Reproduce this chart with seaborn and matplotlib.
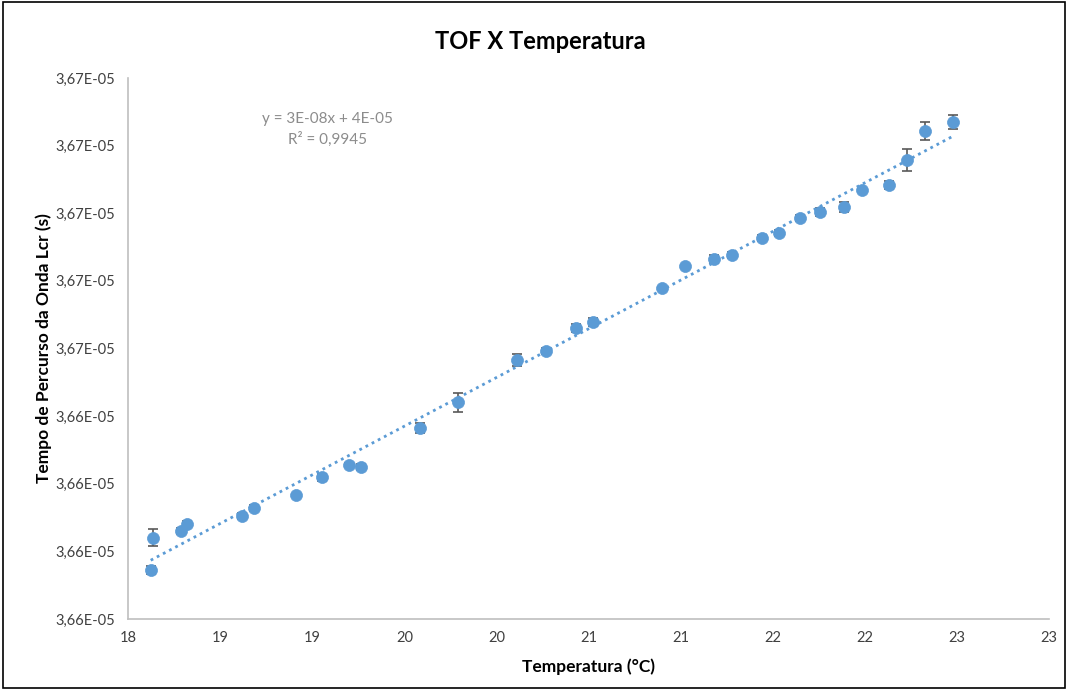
import math
import numpy as np
import pandas as pd
import seaborn as sns
import matplotlib
matplotlib.use("Agg")
import matplotlib.pyplot as plt
from matplotlib.ticker import FuncFormatter, MultipleLocator
from matplotlib.patches import Rectangle

# Temperature (°C) and time of flight of the Lcr wave (s) with its deviation
temperatura = [18.123, 18.138, 18.286, 18.319, 18.619, 18.686, 18.914, 19.055,
               19.197, 19.267, 19.584, 19.794, 20.114, 20.268, 20.434, 20.524,
               20.901, 21.024, 21.180, 21.277, 21.444, 21.533, 21.649, 21.757,
               21.889, 21.987, 22.130, 22.227, 22.325, 22.481]
tof = [3.659450e-05, 3.660405e-05, 3.660612e-05, 3.660802e-05, 3.661047e-05,
       3.661284e-05, 3.661678e-05, 3.662192e-05, 3.662565e-05, 3.662506e-05,
       3.663642e-05, 3.664405e-05, 3.665663e-05, 3.665929e-05, 3.666618e-05,
       3.666796e-05, 3.667802e-05, 3.668453e-05, 3.668642e-05, 3.668778e-05,
       3.669272e-05, 3.669420e-05, 3.669864e-05, 3.670033e-05, 3.670180e-05,
       3.670683e-05, 3.670840e-05, 3.671571e-05, 3.672438e-05, 3.672704e-05]
desvio = [1.3e-09, 2.5e-09, 0.9e-09, 0.9e-09, 0.9e-09, 0.9e-09, 0.3e-09, 1.0e-09,
          0.6e-09, 0.9e-09, 1.5e-09, 2.9e-09, 1.8e-09, 0.9e-09, 1.2e-09, 1.2e-09,
          0.3e-09, 0.3e-09, 1.2e-09, 0.9e-09, 0.9e-09, 0.9e-09, 0.9e-09, 1.2e-09,
          1.5e-09, 0.3e-09, 1.2e-09, 3.2e-09, 2.7e-09, 2.1e-09]

titulo = "TOF X Temperatura"
rotulo_x = "Temperatura (°C)"
rotulo_y = "Tempo de Percurso da Onda Lcr (s)"
equacao = "y = 3E-08x + 4E-05\nR² = 0,9945"

df = pd.DataFrame({"temperatura": temperatura, "tof": tof, "desvio": desvio})

sns.set_theme(style="white")
plt.rcParams["font.family"] = ["Lato", "DejaVu Sans"]

azul = "#5B9BD5"
fig = plt.figure(figsize=(10.68, 6.90), dpi=100)
ax = fig.add_axes([0.1199, 0.1029, 0.8623, 0.7841])

# outer chart frame
fig.patches.append(Rectangle((0.003, 0.003), 0.994, 0.994, transform=fig.transFigure,
                             fill=False, edgecolor="#000000", linewidth=1.2))

ax.errorbar(df["temperatura"], df["tof"], yerr=df["desvio"], fmt="none",
            ecolor="#595959", elinewidth=1.2, capsize=3.5, capthick=1.2, zorder=2)
sns.regplot(data=df, x="temperatura", y="tof", ax=ax, scatter=False, ci=None,
            truncate=True,
            line_kws=dict(color=azul, linewidth=2.0, linestyle=(0, (1.0, 1.5)),
                          dash_capstyle="butt", zorder=3))
sns.scatterplot(data=df, x="temperatura", y="tof", ax=ax, color=azul, s=75,
                edgecolor=azul, linewidth=0.5, zorder=4)

ax.set_xlim(18, 23)
ax.set_ylim(3.658e-05, 3.674e-05)
ax.xaxis.set_major_locator(MultipleLocator(0.5))
ax.yaxis.set_major_locator(MultipleLocator(2e-08))
ax.xaxis.set_major_formatter(FuncFormatter(lambda v, p: f"{math.floor(v + 0.5 + 1e-9):d}"))
ax.yaxis.set_major_formatter(FuncFormatter(lambda v, p: f"{v:.2E}".replace(".", ",")))
ax.yaxis.get_offset_text().set_visible(False)

ax.tick_params(axis="both", length=0, labelsize=10.5, labelcolor="#404040", pad=9)
for s in ("top", "right"):
    ax.spines[s].set_visible(False)
for s in ("left", "bottom"):
    ax.spines[s].set_color("#BFBFBF")
    ax.spines[s].set_linewidth(1.2)
ax.grid(False)

ax.set_xlabel(rotulo_x, fontsize=12.5, fontweight="bold", color="#000000", labelpad=9)
ax.set_ylabel(rotulo_y, fontsize=12.5, fontweight="bold", color="#000000", labelpad=3)
fig.text(0.5056, 0.940, titulo, ha="center", va="center", fontsize=17,
         fontweight="bold", color="#000000")
ax.text(0.2165, 0.937, equacao, transform=ax.transAxes, ha="center", va="top",
        fontsize=11, color="#8C8C8C", linespacing=1.5)

fig.savefig("out.png", dpi=100)
